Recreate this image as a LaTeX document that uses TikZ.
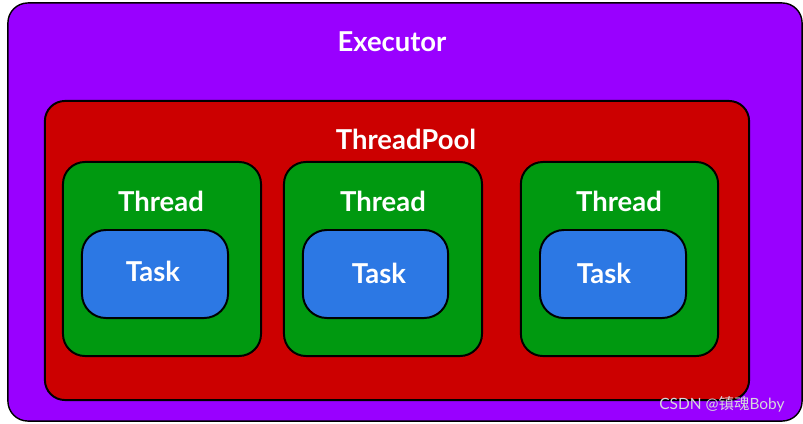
\documentclass[tikz,border=0pt]{standalone}
\usepackage{fontspec}
\setmainfont{Lato}
\newfontfamily\cjk{Noto Sans CJK SC}
\definecolor{executorpurple}{RGB}{153,0,255}
\definecolor{poolred}{RGB}{204,0,0}
\definecolor{threadgreen}{RGB}{0,153,16}
\definecolor{taskblue}{RGB}{44,120,228}
\definecolor{markgray}{RGB}{215,215,220}
\tikzset{
  layer/.style={draw=black, line width=1.4pt, rounded corners=#1, inner sep=0pt},
  caption/.style={text=white, font=\fontsize{19.5}{21}\selectfont\bfseries, inner sep=0pt}
}
\begin{document}
\begin{tikzpicture}[x=0.025cm, y=-0.025cm]
  \useasboundingbox (0,0) rectangle (803,423);
  \fill[white] (0,0) rectangle (803,423);
  \node[layer=0.5cm, fill=executorpurple, line width=1pt, minimum width=19.85cm, minimum height=10.45cm] (executor) at (405,212) {};
  \node[layer=0.5cm, fill=poolred, minimum width=17.6cm, minimum height=7.475cm] (pool) at (397,250.5) {};
  \node[layer=0.55cm, fill=threadgreen, minimum width=4.95cm, minimum height=4.85cm] (thread1) at (162,259) {};
  \node[layer=0.55cm, fill=threadgreen, minimum width=4.95cm, minimum height=4.85cm] (thread2) at (383,259) {};
  \node[layer=0.55cm, fill=threadgreen, minimum width=4.93cm, minimum height=4.85cm] (thread3) at (619.5,259) {};
  \node[layer=0.6cm, fill=taskblue, minimum width=3.65cm, minimum height=2.2cm] (task1) at (155,274) {};
  \node[layer=0.6cm, fill=taskblue, minimum width=3.63cm, minimum height=2.2cm] (task2) at (375.5,274) {};
  \node[layer=0.6cm, fill=taskblue, minimum width=3.65cm, minimum height=2.2cm] (task3) at (613,274) {};
  \node[caption] (executorlabel) at (392,42) {Executor};
  \node[caption] (poollabel) at (406,139) {ThreadPool};
  \node[caption] (threadlabel1) at (161,201) {Thread};
  \node[caption] (threadlabel2) at (383,201) {Thread};
  \node[caption] (threadlabel3) at (619,201) {Thread};
  \node[caption] (tasklabel1) at (153,271) {Task};
  \node[caption] (tasklabel2) at (379,273) {Task};
  \node[caption] (tasklabel3) at (604,273) {Task};
  \node[text=markgray, font=\fontsize{11}{12}\selectfont, inner sep=0pt] (watermark) at (722,404) {CSDN @{\cjk 镇魂}Boby};
\end{tikzpicture}
\end{document}
